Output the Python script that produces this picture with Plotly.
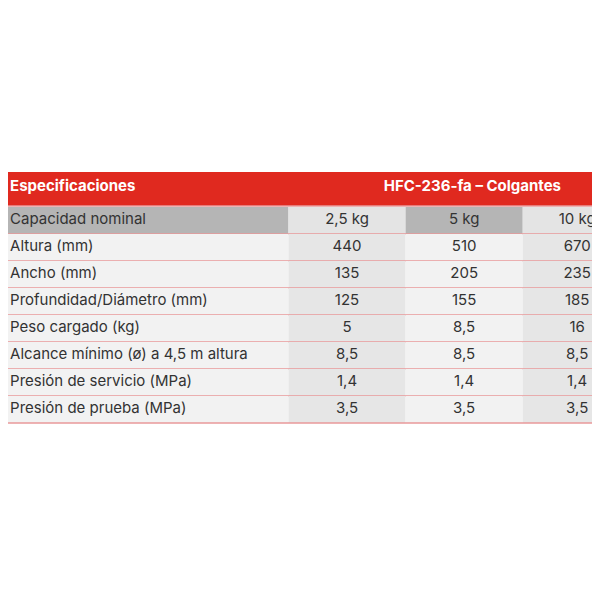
import plotly.graph_objects as go

header_left = "Especificaciones"
header_right = "HFC-236-fa – Colgantes"
row_labels = ["Capacidad nominal", "Altura (mm)", "Ancho (mm)", "Profundidad/Diámetro (mm)",
              "Peso cargado (kg)", "Alcance mínimo (ø) a 4,5 m altura",
              "Presión de servicio (MPa)", "Presión de prueba (MPa)"]
col_25 = ["2,5 kg", "440", "135", "125", "5", "8,5", "1,4", "3,5"]
col_5 = ["5 kg", "510", "205", "155", "8,5", "8,5", "1,4", "3,5"]
col_10 = ["10 kg", "670", "235", "185", "16", "8,5", "1,4", "3,5"]

# layout geometry (pixels)
col_edges = [0, 281, 395, 509, 600]
text_x = [10, 338, 452, 562]
head_top, head_bot = 172, 206
row_top, row_h = 207, 27.0

fig = go.Figure()
shapes = []
shapes.append(dict(type="rect", x0=0, x1=600, y0=head_top, y1=head_bot, fillcolor="#e0291f", line_width=0, layer="below"))
for i in range(len(row_labels)):
    y0 = row_top + i * row_h
    y1 = y0 + row_h
    if i == 0:
        fills = ["#b5b5b5", "#e4e4e4", "#b5b5b5", "#e4e4e4"]
    else:
        fills = ["#f2f2f2", "#e6e6e6", "#f2f2f2", "#e6e6e6"]
    for c in range(4):
        shapes.append(dict(type="rect", x0=col_edges[c], x1=col_edges[c + 1], y0=y0, y1=y1,
                           fillcolor=fills[c], line_width=0, layer="below"))
    shapes.append(dict(type="line", x0=0, x1=600, y0=y1, y1=y1, line=dict(color="#e8989a", width=1.5), layer="below"))
shapes.append(dict(type="line", x0=0, x1=600, y0=head_bot, y1=head_bot, line=dict(color="#e8989a", width=1.5), layer="below"))

ys = [row_top + (i + 0.5) * row_h for i in range(len(row_labels))]
fig.add_trace(go.Scatter(x=[text_x[0]] * len(ys), y=ys, text=row_labels, mode="text",
                         textposition="middle right", textfont=dict(family="Inter", size=15, color="#333333"),
                         hoverinfo="skip"))
for c, vals in zip([1, 2, 3], [col_25, col_5, col_10]):
    fig.add_trace(go.Scatter(x=[text_x[c]] * len(ys), y=ys, text=vals, mode="text",
                             textposition="middle center", textfont=dict(family="Inter", size=15, color="#333333"),
                             hoverinfo="skip"))
hy = (head_top + head_bot) / 2 - 2
fig.add_trace(go.Scatter(x=[text_x[0], 460], y=[hy, hy], text=[f"<b>{header_left}</b>", f"<b>{header_right}</b>"],
                         mode="text", textposition=["middle right", "middle center"],
                         textfont=dict(family="Inter", size=15, color="white"), hoverinfo="skip"))

fig.update_layout(width=600, height=600, margin=dict(l=0, r=0, t=0, b=0), showlegend=False,
                  plot_bgcolor="white", paper_bgcolor="white", shapes=shapes,
                  xaxis=dict(range=[8, 592], visible=False, fixedrange=True),
                  yaxis=dict(range=[608, 8], visible=False, fixedrange=True))
fig.write_html("out.html")
